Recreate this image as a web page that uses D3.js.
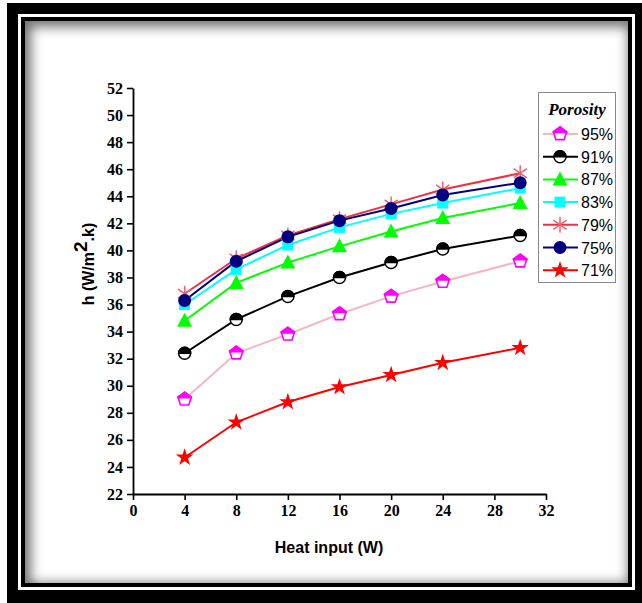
<!DOCTYPE html>
<html>
<head>
<meta charset="utf-8">
<script src="https://cdn.jsdelivr.net/npm/d3@7"></script>
<style>
  body { margin: 0; background: #fff; width: 642px; height: 603px; overflow: hidden; position: relative; }
  .box { position: absolute; }
  #chart { position: absolute; left: 0; top: 0; }
</style>
</head>
<body>
<div class="box" style="left:7px;top:3px;width:635px;height:600px;background:#000"></div>
<div class="box" style="left:18px;top:14px;width:617px;height:576px;background:#fff"></div>
<div class="box" style="left:21px;top:17px;width:611px;height:570px;background:#000"></div>
<div class="box" style="left:25px;top:21px;width:603px;height:562px;background:#fff;box-shadow:inset 3px 3px 12px 3px rgba(0,0,0,0.55)"></div>
<svg id="chart" width="642" height="603"></svg>
<script>
// heat input (W)
const heatInput = [4, 8, 12, 16, 20, 24, 30];

// h values per porosity
const h95 = [29.0, 32.4, 33.8, 35.3, 36.6, 37.7, 39.2];
const h91 = [32.4, 34.9, 36.6, 38.0, 39.1, 40.1, 41.1];
const h87 = [34.8, 37.6, 39.1, 40.3, 41.4, 42.4, 43.5];
const h83 = [36.0, 38.6, 40.4, 41.7, 42.7, 43.5, 44.6];
const h79 = [36.8, 39.4, 41.1, 42.3, 43.4, 44.5, 45.7];
const h75 = [36.3, 39.2, 41.0, 42.2, 43.1, 44.1, 45.0];
const h71 = [24.7, 27.3, 28.8, 29.9, 30.8, 31.7, 32.8];

const labels = ['95%', '91%', '87%', '83%', '79%', '75%', '71%'];
const xTicks = [0, 4, 8, 12, 16, 20, 24, 28, 32];
const yTicks = [22, 24, 26, 28, 30, 32, 34, 36, 38, 40, 42, 44, 46, 48, 50, 52];

const series = [
    {name: labels[0], values: h95, line: '#f5b5c3', color: '#ff00ff', marker: 'pentagon'},
    {name: labels[1], values: h91, line: '#000000', color: '#000000', marker: 'halfcircle'},
    {name: labels[2], values: h87, line: '#00ff00', color: '#00ff00', marker: 'triangle'},
    {name: labels[3], values: h83, line: '#00ffff', color: '#00ffff', marker: 'square'},
    {name: labels[4], values: h79, line: '#f03040', color: '#f06070', marker: 'asterisk'},
    {name: labels[5], values: h75, line: '#000080', color: '#000080', marker: 'circle'},
    {name: labels[6], values: h71, line: '#ff0000', color: '#ff0000', marker: 'star'}
];

const svg = d3.select('#chart');

const defs = svg.append('defs');
defs.append('clipPath').attr('id', 'tophalf')
    .attr('clipPathUnits', 'objectBoundingBox')
    .append('rect').attr('x', -0.2).attr('y', -0.2).attr('width', 1.4).attr('height', 0.7);

const xscale = d3.scaleLinear().domain([0, 32]).range([133, 546]);
const yscale = d3.scaleLinear().domain([22, 52]).range([494, 88]);

// axes
const tickFont = 'bold 16px "Liberation Serif", "Times New Roman", serif';

const yaxis_group = svg.append('g')
    .attr('transform', `translate(${xscale(0)},0)`)
    .call(d3.axisLeft(yscale).tickValues(d3.range(23, 52, 2)).tickSize(3).tickFormat(''));
yaxis_group.call(d3.axisLeft(yscale).tickValues(yTicks).tickSize(6).tickPadding(4).tickSizeOuter(0));

const xaxis_group = svg.append('g')
    .attr('transform', `translate(0,${yscale(22)})`)
    .call(d3.axisBottom(xscale).tickValues(d3.range(2, 32, 4)).tickSize(4).tickFormat(''));
xaxis_group.call(d3.axisBottom(xscale).tickValues(xTicks).tickSize(6).tickPadding(5).tickSizeOuter(0));

svg.selectAll('.domain').attr('stroke', '#000').attr('stroke-width', 1.8);
svg.selectAll('.tick line').attr('stroke', '#000').attr('stroke-width', 1.6);
svg.selectAll('.tick text').style('font', tickFont).attr('fill', '#000');

// axis titles
svg.append('text')
    .attr('x', 329).attr('y', 553)
    .attr('text-anchor', 'middle')
    .style('font', 'bold 16px "Liberation Sans", Arial, sans-serif')
    .text('Heat input (W)');

const ylab = svg.append('text')
    .attr('transform', 'translate(94,264) rotate(-90)')
    .attr('text-anchor', 'middle')
    .style('font', 'bold 16px "Liberation Sans", Arial, sans-serif');
ylab.append('tspan').text('h (W/m');
ylab.append('tspan').attr('dy', -7).style('font-size', '19px').text('2');
ylab.append('tspan').attr('dy', 7).text('.k)');

// markers
function pentagonPath(r) {
    const pts = d3.range(5).map(i => {
        const a = -Math.PI / 2 + i * 2 * Math.PI / 5;
        return [r * Math.cos(a), r * Math.sin(a)];
    });
    return 'M' + pts.map(p => p.join(',')).join('L') + 'Z';
}

function drawMarker(g, s) {
    const c = s.color;
    if (s.marker === 'pentagon') {
        g.append('path').attr('d', pentagonPath(7)).attr('fill', '#fff').attr('stroke', c).attr('stroke-width', 1.6);
        g.append('path').attr('d', pentagonPath(7)).attr('fill', c).attr('stroke', c).attr('stroke-width', 1.6)
            .attr('clip-path', 'url(#tophalf)');
    } else if (s.marker === 'halfcircle') {
        g.append('circle').attr('r', 6).attr('fill', '#fff').attr('stroke', c).attr('stroke-width', 1.5);
        g.append('path').attr('d', 'M-6,0A6,6 0 0 1 6,0Z').attr('fill', c).attr('stroke', c).attr('stroke-width', 1.5);
    } else if (s.marker === 'triangle') {
        g.append('path').attr('d', 'M0,-8L7.5,6L-7.5,6Z').attr('fill', c);
    } else if (s.marker === 'square') {
        g.append('rect').attr('x', -5.5).attr('y', -5.5).attr('width', 11).attr('height', 11).attr('fill', c);
    } else if (s.marker === 'asterisk') {
        const r = 8;
        [90, 35, 145].forEach(a => {
            const rad = a * Math.PI / 180;
            g.append('line')
                .attr('x1', -r * Math.cos(rad)).attr('y1', -r * Math.sin(rad))
                .attr('x2', r * Math.cos(rad)).attr('y2', r * Math.sin(rad))
                .attr('stroke', c).attr('stroke-width', 1.5);
        });
    } else if (s.marker === 'circle') {
        g.append('circle').attr('r', 6.5).attr('fill', c);
    } else if (s.marker === 'star') {
        g.append('path').attr('d', d3.symbol(d3.symbolStar, 95)()).attr('fill', c);
    }
}

const line = d3.line()
    .x((d, i) => xscale(heatInput[i]))
    .y(d => yscale(d));

// draw order: as plotted
series.forEach(s => {
    svg.append('path')
        .attr('d', line(s.values))
        .attr('fill', 'none')
        .attr('stroke', s.line)
        .attr('stroke-width', 2);
});
series.forEach(s => {
    svg.append('g').selectAll('g')
        .data(s.values)
        .join('g')
        .attr('transform', (d, i) => `translate(${xscale(heatInput[i])},${yscale(d)})`)
        .each(function () { drawMarker(d3.select(this), s); });
});

// legend
const legend = svg.append('g');
legend.append('rect')
    .attr('x', 538.5).attr('y', 92.5).attr('width', 77).attr('height', 190)
    .attr('fill', '#fff').attr('stroke', '#888').attr('stroke-width', 1);
legend.append('text')
    .attr('x', 577).attr('y', 115)
    .attr('text-anchor', 'middle')
    .style('font', 'bold italic 17px "Liberation Serif", "Times New Roman", serif')
    .text('Porosity');

series.forEach((s, i) => {
    const ly = 134 + i * 22.7;
    const g = legend.append('g');
    g.append('line')
        .attr('x1', 543).attr('x2', 578).attr('y1', ly).attr('y2', ly)
        .attr('stroke', s.line).attr('stroke-width', 2);
    drawMarker(g.append('g').attr('transform', `translate(560,${ly})`), s);
    g.append('text')
        .attr('x', 581).attr('y', ly + 6)
        .style('font', '16px "Liberation Sans", Arial, sans-serif')
        .text(s.name);
});
</script>
</body>
</html>
